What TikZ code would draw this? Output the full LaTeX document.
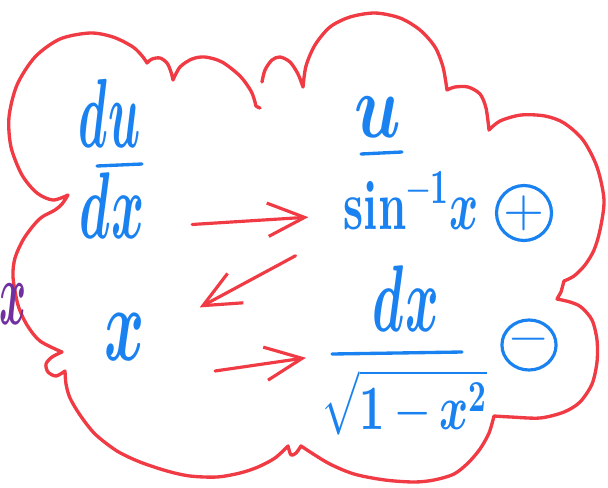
\documentclass[tikz,border=0pt]{standalone}
\definecolor{inkRed}{RGB}{240,58,68}
\definecolor{inkBlue}{RGB}{26,130,240}
\definecolor{inkPurple}{RGB}{112,48,160}
\usepackage{tikz}
\usepackage{graphicx}
\usepackage{unicode-math}
\usetikzlibrary{arrows.meta,shapes.geometric}

\begin{document}
\begin{tikzpicture}[x=0.02cm, y=-0.02cm,
    ink/.style={text=inkBlue, inner sep=0pt},
    cloud/.style={draw=inkRed, line width=1.9pt, line join=round, line cap=round},
    bar/.style={draw=inkBlue, line width=1.9pt, line cap=round},
    arr/.style={draw=inkRed, line width=1.8pt, line cap=round, line join=round,
                -{Straight Barb[length=21pt,width=19pt]}},
    sign/.style={draw=inkBlue, line width=1.8pt, text=inkBlue, inner sep=0pt}]
  \useasboundingbox (0,0) rectangle (608,487);

  % the cloud, one stroke with a gap at the top
  \draw[cloud]
    plot[smooth] coordinates {(262,82) (265,70) (272,60) (280,57) (290,62) (298,74) (303,87)}
    -- plot[smooth] coordinates {(303,87) (306,66) (315,45) (330,27) (350,17) (375,13) (400,18)
                                 (420,30) (435,47) (443,67) (447,90)}
    -- plot[smooth] coordinates {(447,90) (455,87) (468,87) (480,94) (486,108) (489,130)}
    -- plot[smooth] coordinates {(489,130) (500,121) (521,115) (545,116) (564,123) (583,140)
                                 (597,167) (604,200) (600,230) (594,250) (585,265) (574,276) (564,281)}
    -- (561,292) -- (557,299)
    -- plot[smooth] coordinates {(557,299) (570,302) (581,307) (592,320) (597,340) (597,362)
                                 (592,384) (580,402) (564,412) (540,418) (511,417) (494,416)}
    -- plot[smooth] coordinates {(494,416) (489,433) (480,449) (468,463) (454,474) (434,480)
                                 (414,482) (385,480) (354,474) (328,463) (301,446)}
    -- plot[smooth] coordinates {(301,446) (296,453) (291,455) (288,446)}
    -- plot[smooth] coordinates {(288,446) (275,458) (258,467) (240,473) (217,477) (190,476)
                                 (167,471) (140,462) (117,451) (95,434) (80,415) (70,398)
                                 (66,384) (65,371)}
    -- plot[smooth] coordinates {(65,371) (56,376) (48,372) (46,364) (52,357) (62,352)}
    -- plot[smooth] coordinates {(62,352) (40,341) (27,325) (18,305) (13,277) (15,258) (23,240)
                                 (33,226) (42,217) (55,210) (62,204) (68,195)}
    -- plot[smooth] coordinates {(68,195) (53,200) (37,193) (22,175) (11,147) (9,117) (17,85)
                                 (35,57) (60,39) (90,33) (113,37) (133,47) (143,57) (147,63)}
    -- plot[smooth] coordinates {(147,63) (152,59) (160,58) (167,63) (171,72) (173,80)}
    -- plot[smooth] coordinates {(173,80) (180,67) (192,59) (205,57) (222,62) (240,76) (251,91)
                                 (255,102) (256,106) (260,108)};

  % left column
  \node[ink, anchor=base, font=\fontsize{56}{64}\selectfont] (du) at (110,147) {\scalebox{0.48}[1]{$\symbfit{du}$}};
  \draw[bar] (97,166) -- (142,164);
  \node[ink, anchor=base, font=\fontsize{54}{62}\selectfont] (dxl) at (112,238) {\scalebox{0.53}[1]{$\symbfit{dx}$}};
  \node[ink, anchor=base, font=\fontsize{60}{70}\selectfont] (xm) at (125,360) {\scalebox{0.58}[1]{$\symbfit{x}$}};

  % right column
  \node[ink, anchor=base, font=\fontsize{52}{60}\selectfont] (u) at (378,137) {\scalebox{0.75}[1]{$\symbfit{u}$}};
  \draw[bar] (361,154) -- (402,152);
  \node[ink, anchor=base, font=\fontsize{40}{48}\selectfont] (sinx) at (411,229)
    {\scalebox{0.63}[1]{$\symbf{sin}^{\symbf{-1}}\symbfit{x}$}};
  \node[ink, anchor=base, font=\fontsize{54}{62}\selectfont] (dxr) at (406,331) {\scalebox{0.54}[1]{$\symbfit{dx}$}};
  \coordinate (fbarL) at (332,354);
  \coordinate (fbarR) at (462,352);
  \draw[bar] (fbarL) -- (fbarR);
  \node[ink, font=\fontsize{36}{44}\selectfont] (root) at (405,402)
    {\scalebox{0.7}[1]{$\sqrt{\symbf{1}-\symbfit{x}^{\symbf{2}}}$}};

  % signs
  \node[sign, circle, minimum size=1.1cm, font=\fontsize{30}{36}\selectfont] (plus) at (524,213) {$\symbf{+}$};
  \node[sign, ellipse, minimum width=1.08cm, minimum height=1cm, font=\fontsize{28}{34}\selectfont] (minus) at (529,345) {$\symbf{-}$};

  % left edge
  \node[inner sep=0pt, text=inkPurple, font=\fontsize{52}{60}\selectfont] (edge) at (13,304) {\scalebox{0.45}[1]{$\symbfit{x}$}};

  % arrows
  \draw[arr, shorten <=27pt, shorten >=20pt] ([yshift=6pt]dxl.base east) -- ([yshift=8pt]sinx.base west);
  \draw[arr, shorten <=31pt, shorten >=35pt] (sinx.south west) -- (xm.east);
  \draw[arr, shorten <=40pt, shorten >=15pt] ([yshift=-12pt]xm.base east) -- (fbarL);
\end{tikzpicture}
\end{document}
